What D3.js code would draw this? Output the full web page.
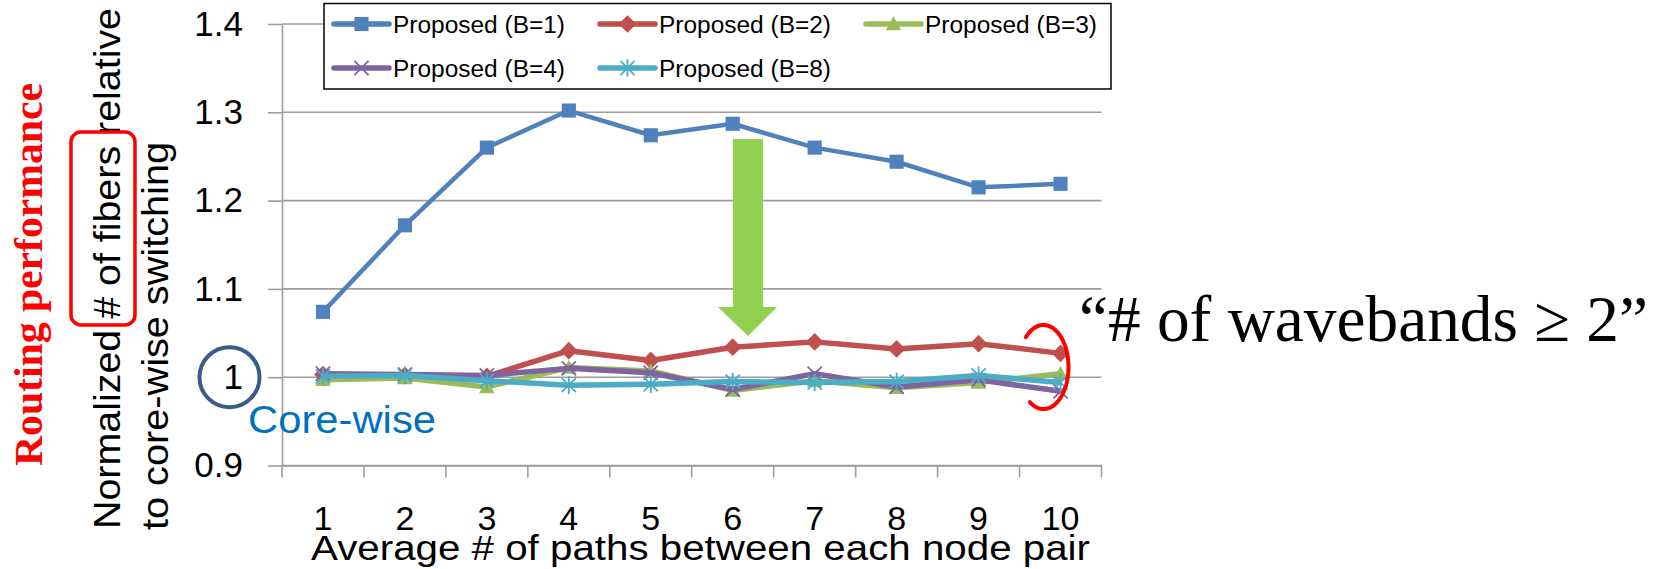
<!DOCTYPE html>
<html><head><meta charset="utf-8">
<script src="https://cdn.jsdelivr.net/npm/d3@7"></script>
<style>
html,body{margin:0;padding:0;background:#fff;}
svg{display:block;}
</style></head>
<body>
<svg id="chart" width="1662" height="569"></svg>
<script>
// ---------- data ----------
const categories = ["1","2","3","4","5","6","7","8","9","10"];
const seriesNames = ["Proposed (B=1)","Proposed (B=2)","Proposed (B=3)","Proposed (B=4)","Proposed (B=8)"];
const valuesB1 = [1.074, 1.172, 1.260, 1.302, 1.274, 1.287, 1.260, 1.244, 1.215, 1.219];
const valuesB2 = [1.003, 1.002, 1.001, 1.030, 1.019, 1.034, 1.040, 1.032, 1.038, 1.027];
const valuesB3 = [0.997, 0.999, 0.989, 1.011, 1.007, 0.985, 0.996, 0.988, 0.994, 1.004];
const valuesB4 = [1.004, 1.003, 1.002, 1.010, 1.005, 0.986, 1.004, 0.989, 0.997, 0.984];
const valuesB8 = [1.001, 1.002, 0.996, 0.991, 0.992, 0.995, 0.994, 0.995, 1.002, 0.994];
const yTicks = [0.9, 1.0, 1.1, 1.2, 1.3, 1.4];
const yTickLabels = ["0.9", "1", "1.1", "1.2", "1.3", "1.4"];
const xTitle = "Average # of paths between each node pair";
const yTitle1 = "Normalized # of fibers relative";
const yTitle2 = "to core-wise switching";
const sideTitle = "Routing performance";
const coreLabel = "Core-wise";
const noteText = "\u201C# of wavebands \u2265 2\u201D";

// ---------- styling ----------
const colors = ["#4F81BD","#C0504D","#9BBB59","#8064A2","#4BACC6"];
const shapeKeys = ["square","diamond","triangle","x","star"];
const lineWidths = [4.5, 5.5, 5.5, 5.5, 5.5];
const allSeries = [valuesB1, valuesB2, valuesB3, valuesB4, valuesB8];

const svg = d3.select("#chart");
const plotLeft = 282, plotRight = 1101.5, plotTop = 24, plotBottom = 465.5;

const x = d3.scaleBand().domain(categories).range([plotLeft, plotRight]).padding(0);
const y = d3.scaleLinear().domain([0.9, 1.4]).range([plotBottom, plotTop]);
const cx = c => x(c) + x.bandwidth() / 2;

const sans = "'Liberation Sans', Arial, sans-serif";
const serif = "'Liberation Serif', 'Times New Roman', serif";
const gridColor = "#9d9d9d";

// gridlines
svg.append("g").selectAll("line").data(yTicks).join("line")
  .attr("x1", plotLeft).attr("x2", plotRight)
  .attr("y1", d => y(d)).attr("y2", d => y(d))
  .attr("stroke", gridColor).attr("stroke-width", 1.6);

// y axis
const yAxis = svg.append("g").attr("transform", `translate(${plotLeft},0)`)
  .call(d3.axisLeft(y).tickValues(yTicks).tickSize(14).tickSizeOuter(0).tickPadding(25)
    .tickFormat((d, i) => yTickLabels[i]));
yAxis.select(".domain").attr("stroke", gridColor).attr("stroke-width", 1.6);
yAxis.selectAll(".tick line").attr("stroke", gridColor).attr("stroke-width", 1.6);
yAxis.selectAll(".tick text").attr("font-family", sans).attr("font-size", 35).attr("fill", "#000");

// x axis (labels)
const xAxis = svg.append("g").attr("transform", `translate(0,${plotBottom})`)
  .call(d3.axisBottom(x).tickSize(0).tickPadding(40));
xAxis.select(".domain").attr("stroke", gridColor).attr("stroke-width", 1.6);
xAxis.selectAll(".tick text").attr("font-family", sans).attr("font-size", 34).attr("fill", "#000");
// x boundary ticks
const bounds = categories.map(c => x(c)).concat([x.range()[1]]);
svg.append("g").selectAll("line").data(bounds).join("line")
  .attr("x1", d => d).attr("x2", d => d)
  .attr("y1", plotBottom).attr("y2", plotBottom + 12)
  .attr("stroke", gridColor).attr("stroke-width", 1.6);

// ---------- markers ----------
const shapes = {
  square: {draw(c, s){ const r = Math.sqrt(s)/2; c.rect(-r, -r, 2*r, 2*r); }},
  diamond: {draw(c, s){ const r = Math.sqrt(s)/2*1.25; c.moveTo(0,-r); c.lineTo(r,0); c.lineTo(0,r); c.lineTo(-r,0); c.closePath(); }},
  triangle: {draw(c, s){ const r = Math.sqrt(s)/2*1.1; c.moveTo(0,-r); c.lineTo(r,r*0.8); c.lineTo(-r,r*0.8); c.closePath(); }},
  x: {draw(c, s){ const r = Math.sqrt(s)/2; c.moveTo(-r,-r); c.lineTo(r,r); c.moveTo(r,-r); c.lineTo(-r,r); }},
  star: {draw(c, s){ const r = Math.sqrt(s)/2; c.moveTo(-r,-r); c.lineTo(r,r); c.moveTo(r,-r); c.lineTo(-r,r); c.moveTo(0,-r*1.25); c.lineTo(0,r*1.25); }}
};
const filled = k => (k === "square" || k === "diamond" || k === "triangle");
function drawMarker(g, k, color, size) {
  const p = g.append("path").attr("d", d3.symbol().type(shapes[k]).size(size)());
  if (filled(k)) p.attr("fill", color).attr("stroke", "none");
  else p.attr("fill", "none").attr("stroke", color).attr("stroke-width", 1.8);
  return p;
}

// ---------- series ----------
const lineGen = d3.line().x((d, i) => cx(categories[i])).y(d => y(d));
allSeries.forEach((vals, si) => {
  const g = svg.append("g");
  g.append("path").datum(vals).attr("d", lineGen)
    .attr("fill", "none").attr("stroke", colors[si]).attr("stroke-width", lineWidths[si])
    .attr("stroke-linejoin", "round");
  vals.forEach((v, i) => {
    drawMarker(g, shapeKeys[si], colors[si], 200)
      .attr("transform", `translate(${cx(categories[i])},${y(v)})`);
  });
});

// ---------- titles ----------
svg.append("text").text(xTitle)
  .attr("x", 311).attr("y", 560).attr("textLength", 779).attr("lengthAdjust", "spacingAndGlyphs")
  .attr("font-family", sans).attr("font-size", 35).attr("fill", "#000");

svg.append("text").text(yTitle1)
  .attr("transform", "translate(120,529) rotate(-90)")
  .attr("textLength", 521).attr("lengthAdjust", "spacingAndGlyphs")
  .attr("font-family", sans).attr("font-size", 37).attr("fill", "#000");
svg.append("text").text(yTitle2)
  .attr("transform", "translate(168,530) rotate(-90)")
  .attr("textLength", 388).attr("lengthAdjust", "spacingAndGlyphs")
  .attr("font-family", sans).attr("font-size", 37).attr("fill", "#000");

svg.append("text").text(sideTitle)
  .attr("transform", "translate(42,466) rotate(-90)")
  .attr("textLength", 383).attr("lengthAdjust", "spacingAndGlyphs")
  .attr("font-family", serif).attr("font-weight", "bold").attr("font-size", 41).attr("fill", "#FF0000");

// red rounded rectangle around "# of fibers"
svg.append("rect").attr("x", 71).attr("y", 132).attr("width", 64).attr("height", 193)
  .attr("rx", 10).attr("fill", "none").attr("stroke", "#FF0000").attr("stroke-width", 3.5);

// circle around "1"
svg.append("circle").attr("cx", 229.5).attr("cy", y(1.0)).attr("r", 30)
  .attr("fill", "none").attr("stroke", "#385D8A").attr("stroke-width", 4);

svg.append("text").text(coreLabel)
  .attr("x", 248).attr("y", 433).attr("textLength", 188).attr("lengthAdjust", "spacingAndGlyphs")
  .attr("font-family", sans).attr("font-size", 39).attr("fill", "#0070C0");

// green arrow
svg.append("path")
  .attr("d", "M733,139 L763,139 L763,307 L777,307 L748,336 L718,307 L733,307 Z")
  .attr("fill", "#92D050");

// red open ellipse arc
const arcPts = d3.range(-135, 125, 2).map(t => {
  const a = t * Math.PI / 180;
  return [1043.5 + 25 * Math.cos(a), 367 + 42 * Math.sin(a)];
});
svg.append("path").attr("d", d3.line()(arcPts))
  .attr("fill", "none").attr("stroke", "#FF0000").attr("stroke-width", 4).attr("stroke-linecap", "round");

svg.append("text").text(noteText)
  .attr("x", 1079).attr("y", 341).attr("textLength", 569).attr("lengthAdjust", "spacingAndGlyphs")
  .attr("font-family", serif).attr("font-size", 65).attr("fill", "#000");

// ---------- legend ----------
const legend = svg.append("g");
legend.append("rect").attr("x", 324).attr("y", 3.5).attr("width", 787).attr("height", 85.5)
  .attr("fill", "#fff").attr("stroke", "#000").attr("stroke-width", 1.5);
const legPos = [[334,24],[600,24],[866,24],[334,68],[600,68]];
seriesNames.forEach((name, i) => {
  const [lx, ly] = legPos[i];
  legend.append("line").attr("x1", lx).attr("x2", lx + 55).attr("y1", ly).attr("y2", ly)
    .attr("stroke", colors[i]).attr("stroke-width", 5.5).attr("stroke-linecap", "round");
  drawMarker(legend, shapeKeys[i], colors[i], 200).attr("transform", `translate(${lx + 27.5},${ly})`);
  legend.append("text").text(name).attr("x", lx + 59).attr("y", ly + 8.5)
    .attr("textLength", 172).attr("lengthAdjust", "spacingAndGlyphs")
    .attr("font-family", sans).attr("font-size", 23).attr("fill", "#000");
});
</script>
</body></html>
